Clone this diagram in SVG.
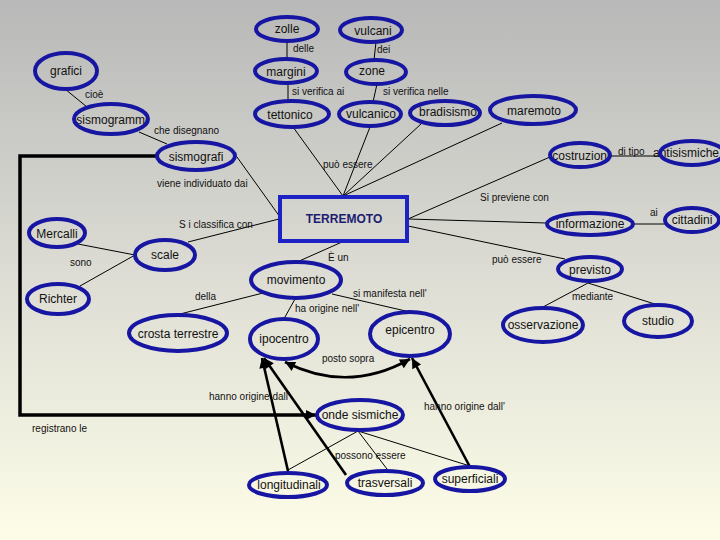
<svg xmlns="http://www.w3.org/2000/svg" width="720" height="540" viewBox="0 0 720 540">
<defs>
<linearGradient id="bg" x1="0" y1="0" x2="0" y2="1">
<stop offset="0" stop-color="#b8b8b8"/>
<stop offset="0.5" stop-color="#dcdcd4"/>
<stop offset="1" stop-color="#fdfde8"/>
</linearGradient>
<marker id="arr" viewBox="0 0 10 10" refX="10" refY="5" markerWidth="11" markerHeight="10" markerUnits="userSpaceOnUse" orient="auto-start-reverse">
<path d="M0,0 L10,5 L0,10 z" fill="#000"/>
</marker>
<style>
.n{fill:none;stroke:#1616a2;stroke-width:4}
.t{font-family:"Liberation Sans",Arial,sans-serif;font-size:12px;fill:#111;text-anchor:middle}
.l{font-family:"Liberation Sans",Arial,sans-serif;font-size:10px;fill:#111}
.c{stroke:#000;stroke-width:1;fill:none}
.k{stroke:#000;stroke-width:2.6;fill:none}
</style>
</defs>
<rect width="720" height="540" fill="url(#bg)"/>

<g id="connectors">
<line class="c" x1="287" y1="42" x2="287" y2="59"/>
<line class="c" x1="376" y1="42" x2="374" y2="60"/>
<line class="c" x1="288" y1="83" x2="288" y2="101"/>
<line class="c" x1="377" y1="84" x2="373" y2="102"/>
<line class="c" x1="65" y1="89" x2="87" y2="107"/>
<line class="c" x1="139" y1="132" x2="167" y2="144"/>
<line class="c" x1="237" y1="157" x2="280" y2="217"/>
<line class="c" x1="293" y1="127" x2="343" y2="196"/>
<line class="c" x1="370" y1="127" x2="343" y2="196"/>
<line class="c" x1="421" y1="124" x2="343" y2="196"/>
<line class="c" x1="502" y1="123" x2="343" y2="196"/>
<line class="c" x1="408" y1="219" x2="550" y2="157"/>
<line class="c" x1="408" y1="219" x2="547" y2="223"/>
<line class="c" x1="408" y1="226" x2="565" y2="259"/>
<line class="c" x1="611" y1="156" x2="660" y2="156"/>
<line class="c" x1="633" y1="224" x2="665" y2="224"/>
<line class="c" x1="588" y1="283" x2="543" y2="307"/>
<line class="c" x1="588" y1="283" x2="658" y2="305"/>
<line class="c" x1="279" y1="219" x2="188" y2="242"/>
<line class="c" x1="135" y1="255" x2="78" y2="244"/>
<line class="c" x1="135" y1="255" x2="80" y2="286"/>
<line class="c" x1="342" y1="242" x2="297" y2="262"/>
<line class="c" x1="263" y1="293" x2="180" y2="314"/>
<line class="c" x1="332" y1="294" x2="410" y2="312"/>
<line class="c" x1="295" y1="299" x2="285" y2="317"/>
<line class="c" x1="358" y1="431" x2="288" y2="470"/>
<line class="c" x1="358" y1="431" x2="387" y2="469"/>
<line class="c" x1="358" y1="431" x2="470" y2="466"/>
<path class="k" d="M410,359 Q348,394 285,362" marker-start="url(#arr)" marker-end="url(#arr)"/>
<path d="M157,156 H20 V415 H316" fill="none" stroke="#000" stroke-width="3.5" marker-end="url(#arr)"/>
<line class="k" x1="288" y1="471" x2="262" y2="358" marker-end="url(#arr)"/>
<line class="k" x1="346" y1="475" x2="264" y2="358" marker-end="url(#arr)"/>
<line class="k" x1="470" y1="467" x2="412" y2="358" marker-end="url(#arr)"/>
</g>

<g id="labels">
<text class="l" x="293" y="52">delle</text>
<text class="l" x="377" y="53">dei</text>
<text class="l" x="292" y="95">si verifica ai</text>
<text class="l" x="383" y="95">si verifica nelle</text>
<text class="l" x="85" y="98">cioè</text>
<text class="l" x="154" y="134">che disegnano</text>
<text class="l" x="323" y="168">può essere</text>
<text class="l" x="157" y="187">viene individuato dai</text>
<text class="l" x="618" y="155">di tipo</text>
<text class="l" x="480" y="201">Si previene con</text>
<text class="l" x="650" y="216">ai</text>
<text class="l" x="179" y="228">S i classifica con</text>
<text class="l" x="70" y="266">sono</text>
<text class="l" x="195" y="300">della</text>
<text class="l" x="328" y="261">È un</text>
<text class="l" x="492" y="263">può essere</text>
<text class="l" x="572" y="300">mediante</text>
<text class="l" x="353" y="297">si manifesta nell'</text>
<text class="l" x="295" y="312">ha origine nell'</text>
<text class="l" x="322" y="362">posto sopra</text>
<text class="l" x="209" y="400">hanno origine dall'</text>
<text class="l" x="424" y="410">hanno origine dall'</text>
<text class="l" x="32" y="432">registrano le</text>
<text class="l" x="335" y="459">possono essere</text>
</g>

<g id="n-zolle"><text class="t" x="287" y="33">zolle</text><ellipse class="n" cx="287" cy="29" rx="31" ry="12"/></g>
<g id="n-vulcani"><text class="t" x="373" y="35">vulcani</text><ellipse class="n" cx="371" cy="30" rx="31" ry="12"/></g>
<g id="n-margini"><text class="t" x="286" y="76">margini</text><ellipse class="n" cx="286" cy="71" rx="31" ry="12"/></g>
<g id="n-zone"><text class="t" x="372" y="75">zone</text><ellipse class="n" cx="376" cy="72" rx="30" ry="12"/></g>
<g id="n-tettonico"><text class="t" x="290" y="119">tettonico</text><ellipse class="n" cx="292" cy="114" rx="37" ry="13"/></g>
<g id="n-vulcanico"><text class="t" x="371" y="118">vulcanico</text><ellipse class="n" cx="370" cy="114" rx="31" ry="12"/></g>
<g id="n-bradisismo"><text class="t" x="448" y="116">bradisismo</text><ellipse class="n" cx="445" cy="113" rx="35" ry="12"/></g>
<g id="n-maremoto"><text class="t" x="534" y="115">maremoto</text><ellipse class="n" cx="533" cy="110" rx="43" ry="14"/></g>
<g id="n-costruzioni"><text class="t" x="581" y="160">costruzioni</text><ellipse class="n" cx="580" cy="155" rx="30" ry="12"/></g>
<g id="n-antisismiche"><text class="t" x="686" y="157" font-size="11">antisismiche</text><ellipse class="n" cx="692" cy="153" rx="32" ry="12"/></g>
<g id="n-grafici"><text class="t" x="66" y="75">grafici</text><ellipse class="n" cx="66" cy="71" rx="31" ry="18"/></g>
<g id="n-sismogrammi"><text class="t" x="112" y="124">sismogrammi</text><ellipse class="n" cx="111" cy="119" rx="37" ry="15"/></g>
<g id="n-sismografi"><text class="t" x="196" y="161">sismografi</text><ellipse class="n" cx="196" cy="156" rx="39" ry="14"/></g>
<g id="n-terremoto"><rect x="280" y="197" width="127" height="44" fill="none" stroke="#1c22c4" stroke-width="4"/><text x="344" y="223" text-anchor="middle" font-family="Liberation Sans,Arial,sans-serif" font-size="12" font-weight="bold" fill="#1c1c70">TERREMOTO</text></g>
<g id="n-mercalli"><text class="t" x="57" y="238">Mercalli</text><ellipse class="n" cx="57" cy="233" rx="28" ry="14"/></g>
<g id="n-scale"><text class="t" x="165" y="259">scale</text><ellipse class="n" cx="165" cy="255" rx="30" ry="15"/></g>
<g id="n-richter"><text class="t" x="58" y="303">Richter</text><ellipse class="n" cx="58" cy="299" rx="31" ry="15"/></g>
<g id="n-crosta"><text class="t" x="178" y="338">crosta terrestre</text><ellipse class="n" cx="178" cy="333" rx="49" ry="18"/></g>
<g id="n-movimento"><text class="t" x="296" y="284">movimento</text><ellipse class="n" cx="296" cy="280" rx="45" ry="18"/></g>
<g id="n-ipocentro"><text class="t" x="284" y="343">ipocentro</text><ellipse class="n" cx="284" cy="339" rx="34" ry="20"/></g>
<g id="n-epicentro"><text class="t" x="410" y="334">epicentro</text><ellipse class="n" cx="410" cy="334" rx="40" ry="22"/></g>
<g id="n-informazione"><text class="t" x="590" y="228">informazione</text><ellipse class="n" cx="590" cy="224" rx="43" ry="11"/></g>
<g id="n-cittadini"><text class="t" x="692" y="224">cittadini</text><ellipse class="n" cx="692" cy="220" rx="27" ry="12"/></g>
<g id="n-previsto"><text class="t" x="590" y="274">previsto</text><ellipse class="n" cx="590" cy="269" rx="32" ry="12"/></g>
<g id="n-osservazione"><text class="t" x="543" y="329">osservazione</text><ellipse class="n" cx="543" cy="325" rx="40" ry="17"/></g>
<g id="n-studio"><text class="t" x="658" y="325">studio</text><ellipse class="n" cx="658" cy="321" rx="34" ry="16"/></g>
<g id="n-onde"><text class="t" x="360" y="419">onde sismiche</text><ellipse class="n" cx="360" cy="415" rx="43" ry="15"/></g>
<g id="n-longitudinali"><text class="t" x="289" y="489">longitudinali</text><ellipse class="n" cx="288" cy="485" rx="39" ry="12"/></g>
<g id="n-trasversali"><text class="t" x="385" y="487">trasversali</text><ellipse class="n" cx="385" cy="483" rx="38" ry="12"/></g>
<g id="n-superficiali"><text class="t" x="470" y="483">superficiali</text><ellipse class="n" cx="470" cy="479" rx="35" ry="12"/></g>
</svg>
